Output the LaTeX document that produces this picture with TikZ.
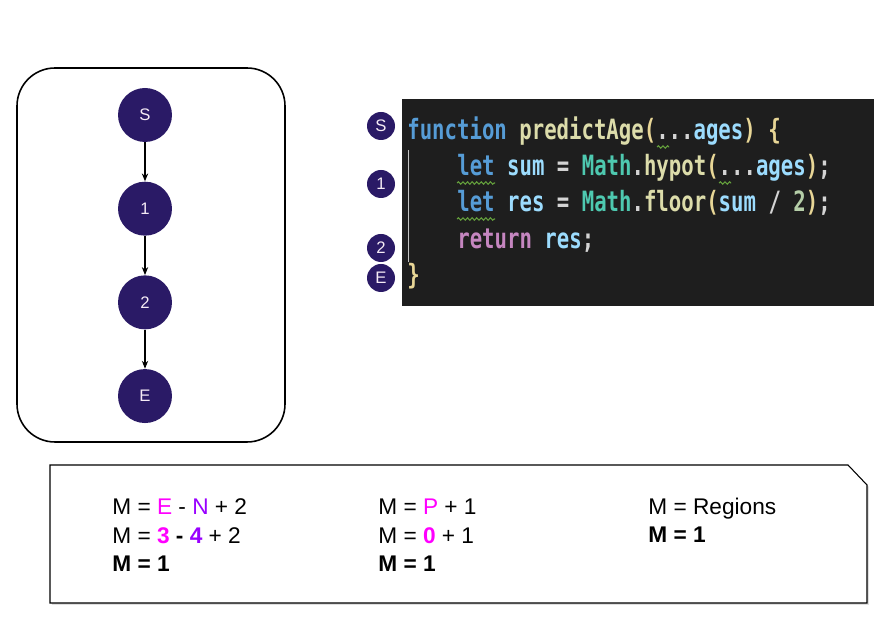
\documentclass[tikz,border=0pt]{standalone}
\usepackage{fontspec}
\setmainfont{Liberation Sans}
\newfontfamily\codefont[FakeStretch=0.74]{DejaVu Sans Mono}
\usepackage{tikz}
\newcommand{\nodesize}{1.08cm}
\newcommand{\marksize}{0.56cm}
\definecolor{flowPurple}{RGB}{42,26,102}
\definecolor{codeBg}{RGB}{30,30,30}
\definecolor{codeKw}{RGB}{86,156,214}
\definecolor{codeFn}{RGB}{220,220,170}
\definecolor{codeVar}{RGB}{156,220,254}
\definecolor{codeCls}{RGB}{78,201,176}
\definecolor{codeOp}{RGB}{212,212,212}
\definecolor{codeNum}{RGB}{181,206,168}
\definecolor{codeRet}{RGB}{197,134,192}
\definecolor{codeBr}{RGB}{232,214,150}
\definecolor{codeWarn}{RGB}{100,160,60}
\definecolor{eqMagenta}{RGB}{255,0,255}
\definecolor{eqPurple}{RGB}{153,0,255}
\newcommand{\ckw}[1]{\textcolor{codeKw}{#1}}
\newcommand{\cfn}[1]{\textcolor{codeFn}{#1}}
\newcommand{\cvr}[1]{\textcolor{codeVar}{#1}}
\newcommand{\ccl}[1]{\textcolor{codeCls}{#1}}
\newcommand{\cop}[1]{\textcolor{codeOp}{#1}}
\newcommand{\cnum}[1]{\textcolor{codeNum}{#1}}
\newcommand{\cret}[1]{\textcolor{codeRet}{#1}}
\newcommand{\cbr}[1]{\textcolor{codeBr}{#1}}
\usetikzlibrary{arrows.meta,calc,decorations.pathmorphing,positioning,shadows}
\tikzset{
  >={Stealth[length=4.5pt,width=3.6pt]},
  node distance=0.78cm,
  frame/.style={draw,line width=0.9pt,rounded corners=0.76cm},
  vertex/.style={fill=flowPurple,shape=circle,minimum size=\nodesize,inner sep=0,text=white!92!violet,font=\fontsize{9.5}{11}\selectfont},
  marker/.style={vertex,minimum size=\marksize},
  edge/.style={draw,->,line width=0.6pt},
  codeline/.style={anchor=base west,inner sep=0,font={\codefont\fontsize{15.9}{19}\selectfont\bfseries}},
  squiggle/.style={draw=codeWarn,line width=0.6pt,decorate,decoration={snake,segment length=2.6pt,amplitude=0.7pt}},
  panel/.style={draw,fill=white,line width=0.6pt,drop shadow={shadow xshift=1pt,shadow yshift=-1pt,opacity=0.25}},
  formula/.style={anchor=base west,inner sep=0,align=left,font=\fontsize{12.9}{16.5}\selectfont},
}
\begin{document}
\begin{tikzpicture}[x=0.02cm,y=-0.02cm]
  \useasboundingbox (0,0) rectangle (893,644);
  % control flow graph
  \draw [frame] (17,68) rectangle (285,442);
  \node (S) [vertex] at (145,115) {S};
  \node (n1) [vertex,below=of S] {1};
  \node (n2) [vertex,below=of n1] {2};
  \node (E) [vertex,below=of n2] {E};
  \path [edge] (S) -- (n1);
  \path [edge] (n1) -- (n2);
  \path [edge] (n2) -- (E);
  % source code
  \fill [codeBg] (402,99) rectangle (874,306);
  \draw [black!75!codeOp!30,line width=0.4pt] (408,150) -- (408,262);
  \node (l1) [codeline] at (407,140) {\ckw{function} \cfn{predictAge}\cbr{(}\cop{...}\cvr{ages}\cbr{)} \cbr{\{}};
  \node (l2) [codeline] at (457,176) {\ckw{let} \cvr{sum} \cop{=} \ccl{Math}\cop{.}\cfn{hypot}\cbr{(}\cop{...}\cvr{ages}\cbr{)}\cop{;}};
  \node (l3) [codeline] at (457,212) {\ckw{let} \cvr{res} \cop{=} \ccl{Math}\cop{.}\cfn{floor}\cbr{(}\cvr{sum} \cop{/} \cnum{2}\cbr{)}\cop{;}};
  \node (l4) [codeline] at (457,249) {\cret{return} \cvr{res}\cop{;}};
  \node (l5) [codeline] at (407,285) {\cbr{\}}};
  \draw [squiggle] ($(l1.base west)+(250,7)$) -- ++(12,0);
  \draw [squiggle] ($(l2.base west)+(0,7)$) -- ++(38,0);
  \draw [squiggle] ($(l2.base west)+(262,7)$) -- ++(12,0);
  \draw [squiggle] ($(l3.base west)+(0,7)$) -- ++(38,0);
  \node (mS) [marker] at (381,126) {S};
  \node (m1) [marker] at (381,184) {1};
  \node (m2) [marker] at (381,248) {2};
  \node (mE) [marker] at (381,278) {E};
  % metrics (base = last line)
  \draw [panel] (50,465) -- (848,465) -- (867,485) -- (867,603) -- (50,603) -- cycle;
  \node (eqA) [formula] at (112,572) {M = \textcolor{eqMagenta}{E} - \textcolor{eqPurple}{N} + 2\\
    M = \textbf{\textcolor{eqMagenta}{3} - \textcolor{eqPurple}{4}} + 2\\
    \textbf{M = 1}};
  \node (eqB) [formula] at (378,572) {M = \textcolor{eqMagenta}{P} + 1\\
    M = \textbf{\textcolor{eqMagenta}{0}} + 1\\
    \textbf{M = 1}};
  \node (eqC) [formula] at (648,543) {M = Regions\\
    \textbf{M = 1}};
\end{tikzpicture}
\end{document}
